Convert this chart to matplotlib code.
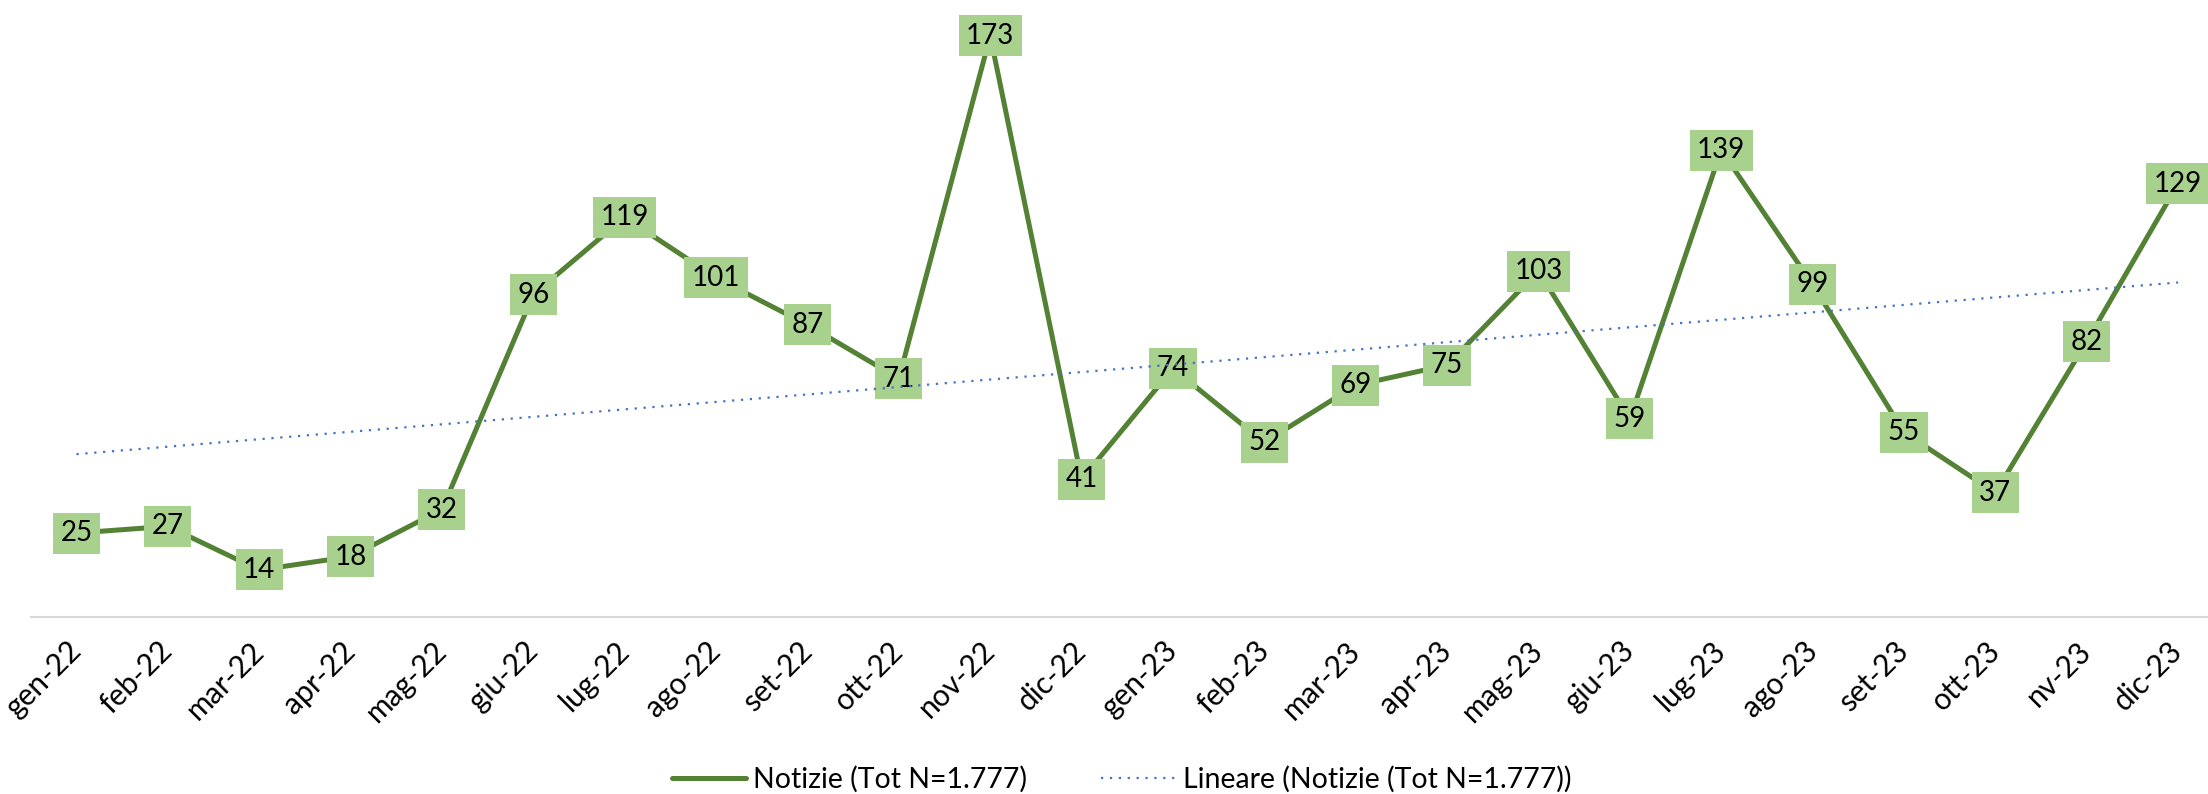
import numpy as np
import matplotlib
matplotlib.use("Agg")
import matplotlib.pyplot as plt

plt.rcParams['font.family'] = ['Lato', 'DejaVu Sans']

mesi = ['gen-22', 'feb-22', 'mar-22', 'apr-22', 'mag-22', 'giu-22', 'lug-22', 'ago-22',
        'set-22', 'ott-22', 'nov-22', 'dic-22', 'gen-23', 'feb-23', 'mar-23', 'apr-23',
        'mag-23', 'giu-23', 'lug-23', 'ago-23', 'set-23', 'ott-23', 'nv-23', 'dic-23']
notizie = [25, 27, 14, 18, 32, 96, 119, 101, 87, 71, 173, 41,
           74, 52, 69, 75, 103, 59, 139, 99, 55, 37, 82, 129]

x = np.arange(len(mesi))

# retta di tendenza lineare sui valori mensili
coef = np.polyfit(x, notizie, 1)
tendenza = np.polyval(coef, x)

fig = plt.figure(figsize=(22.08, 7.94), dpi=100)
ax = fig.add_axes([0.01395, 0.2229, 0.9932, 0.7771])

ax.plot(x, notizie, color='#548235', linewidth=3.6, solid_capstyle='round',
        zorder=2, label='Notizie (Tot N=1.777)')
ax.plot(x, tendenza, color='#4472C4', linewidth=1.6, linestyle=(0, (1, 3)),
        zorder=4, label='Lineare (Notizie (Tot N=1.777))')

for xi, v in zip(x, notizie):
    ax.text(xi, v, str(v), ha='center', va='center', fontsize=20, color='black',
            zorder=3,
            bbox=dict(boxstyle='square,pad=0.27', facecolor='#A9D18E', edgecolor='none'))

ax.set_xlim(-0.5, len(mesi) - 0.5)
ax.set_ylim(0, 183.7)
ax.set_yticks([])
ax.set_xticks(x)
ax.set_xticklabels(mesi, rotation=45, ha='right', va='center', rotation_mode='anchor',
                   fontsize=21.5)
ax.tick_params(axis='x', length=0, pad=21)

for lato in ['top', 'left', 'right']:
    ax.spines[lato].set_visible(False)
ax.spines['bottom'].set_color('#D9D9D9')
ax.spines['bottom'].set_linewidth(1.5)

fig.legend(loc='center', bbox_to_anchor=(0.508, 0.018), ncol=2, frameon=False,
           fontsize=20.5, handlelength=2.6, handletextpad=0.25, columnspacing=2.6)

fig.savefig('out.png', dpi=100)
